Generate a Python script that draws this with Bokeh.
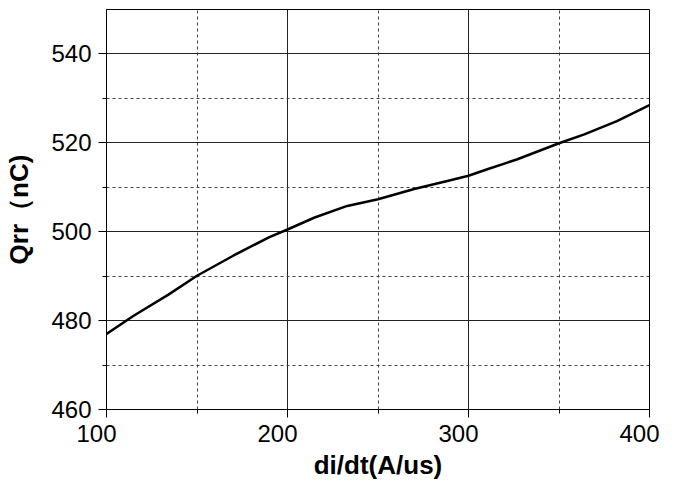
from bokeh.plotting import figure
from bokeh.models import Range1d, FixedTicker
from bokeh.embed import file_html
from bokeh.resources import INLINE

# Data
di_dt = [100, 115, 134, 150, 170, 190, 200, 215, 233, 250, 270, 290, 300, 310, 327, 350, 364, 382, 400]
qrr = [477.0, 481.1, 485.8, 490.1, 494.6, 498.8, 500.5, 503.2, 505.8, 507.3, 509.6, 511.6, 512.6, 514.0, 516.3, 519.9, 521.9, 524.9, 528.5]

x_major = [100, 200, 300, 400]
x_minor = [150, 250, 350]
y_major = [460, 480, 500, 520, 540]
y_minor = [470, 490, 510, 530]

p = figure(width=680, height=482, output_backend="svg", toolbar_location=None,
           x_range=Range1d(100, 400), y_range=Range1d(460, 550),
           min_border_left=106, min_border_top=9, min_border_right=31, min_border_bottom=73)

p.line(di_dt, qrr, line_color="black", line_width=2.5)

p.xaxis.ticker = FixedTicker(ticks=x_major, minor_ticks=x_minor)
p.yaxis.ticker = FixedTicker(ticks=y_major, minor_ticks=y_minor)

for ax in (p.xaxis[0], p.yaxis[0]):
    ax.axis_line_color = "black"
    ax.major_tick_out = 8
    ax.major_tick_in = 0
    ax.minor_tick_out = 4
    ax.minor_tick_in = 0
    ax.major_tick_line_color = "black"
    ax.minor_tick_line_color = "black"
    ax.major_label_text_font = "Liberation Sans"
    ax.major_label_text_font_size = "24px"
    ax.major_label_text_color = "black"
    ax.axis_label_text_font = "Liberation Sans"
    ax.axis_label_text_font_style = "bold"
    ax.axis_label_text_font_size = "26px"
    ax.axis_label_text_color = "black"

# reference tick labels sit a little left of their ticks
p.xaxis.major_label_overrides = {v: f"{v}\u00a0\u00a0\u00a0" for v in x_major}
p.xaxis.axis_label = "di/dt(A/us)"
p.xaxis.major_label_standoff = 2
p.xaxis.axis_label_standoff = 0

p.yaxis.axis_label = "Qrr（nC)"
p.yaxis.major_label_standoff = 7
p.yaxis.axis_label_standoff = 14

for g in (p.xgrid[0], p.ygrid[0]):
    g.grid_line_color = "#222222"
    g.grid_line_width = 1
    g.grid_line_alpha = 1
    g.minor_grid_line_color = "#444444"
    g.minor_grid_line_dash = "3 3"
    g.minor_grid_line_width = 1

p.outline_line_color = "black"
p.outline_line_width = 1
p.outline_line_alpha = 1
p.background_fill_color = "white"
p.border_fill_color = "white"

open("out.html", "w").write(file_html(p, INLINE))
